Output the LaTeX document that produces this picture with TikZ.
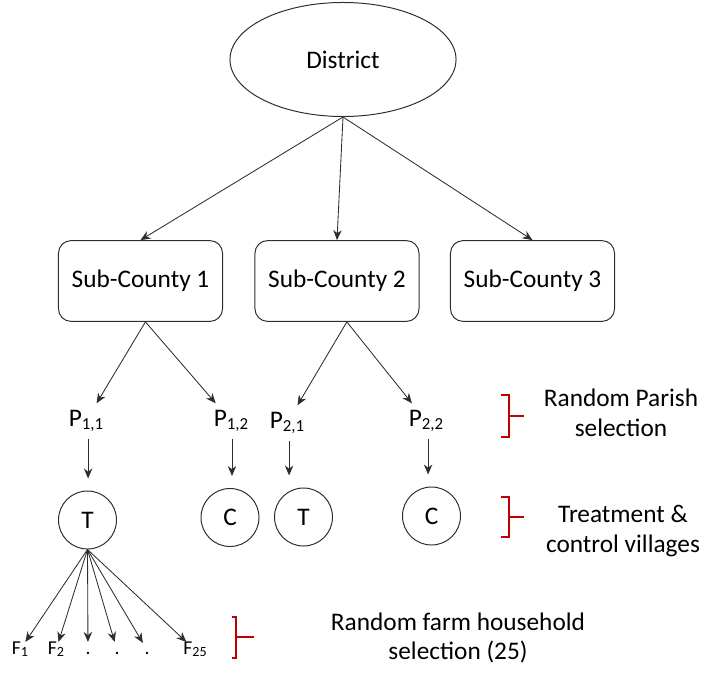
\documentclass[tikz,border=0pt]{standalone}
\usepackage{fontspec}
\setmainfont{Carlito}
\usetikzlibrary{arrows.meta,positioning,shapes.geometric}
\usepackage{xcolor}
\definecolor{brRed}{RGB}{192,0,0}
\definecolor{lnGray}{RGB}{45,45,45}
\newcommand{\lowidx}[2]{\raisebox{-0.2ex}{\fontsize{#1}{#1}\selectfont #2}}
\tikzset{
    level/.style={
        draw=lnGray,line width=0.7pt,align=center,
        font=\fontsize{18}{21}\selectfont
    },
    county/.style={
        level,rounded corners=9pt,minimum width=4.1cm,minimum height=2.02cm
    },
    village/.style={
        level,circle,minimum size=1.45cm,inner sep=0pt
    },
    parish/.style={
        font=\fontsize{18}{21}\selectfont,inner sep=5pt
    },
    farm/.style={
        font=\fontsize{14}{16}\selectfont,inner sep=1pt,
        text height=1.6ex,text depth=0.3ex
    },
    note/.style={
        align=center,font=\fontsize{18}{21}\selectfont
    },
    brace/.style={
        draw=brRed,line width=1.4pt
    },
    arrow/.style={
        -{Stealth[length=2.5mm,width=2.1mm]},line width=0.6pt,draw=lnGray
    }
}

\begin{document}
\begin{tikzpicture}[x=0.025cm,y=-0.025cm]
\useasboundingbox (0,0) rectangle (711,676);

% district and sub-counties
\node[level,ellipse,minimum width=5.65cm,minimum height=2.85cm,inner sep=0pt]
(district) at (343,59.5) {District};

\node[county] (sc1) at (140.5,281) {Sub-County 1};
\node[county] (sc2) at (337,281) {Sub-County 2};
\node[county] (sc3) at (532.5,281) {Sub-County 3};

\draw[arrow] (district.south) -- (sc1.north);
\draw[arrow] (district.south) -- (sc2.north);
\draw[arrow] (district.south) -- (sc3.north);

% parishes
\node[parish] (p11) at (86,421) {P\lowidx{12}{1,1}};
\node[parish] (p12) at (231,421) {P\lowidx{12}{1,2}};
\node[parish] (p21) at (287,423) {P\lowidx{12}{2,1}};
\node[parish] (p22) at (426,421) {P\lowidx{12}{2,2}};

\draw[arrow] ([xshift=3.5pt]sc1.south) -- (p11);
\draw[arrow] ([xshift=3.5pt]sc1.south) -- (p12);
\draw[arrow] ([xshift=7pt]sc2.south) -- (p21);
\draw[arrow] ([xshift=7pt]sc2.south) -- (p22);

% villages
\node[village] (t1) at (87.5,520) {T};
\node[village] (c1) at (230,517.5) {C};
\node[village] (t2) at (303.5,517) {T};
\node[village] (c2) at (431.5,516) {C};

\draw[arrow,shorten >=3mm] ([xshift=1.5pt]p11.south) -- ([xshift=1.5pt]p11.south |- t1.north);
\draw[arrow,shorten >=3mm] ([xshift=0.7pt]p12.south) -- ([xshift=0.7pt]p12.south |- c1.north);
\draw[arrow,shorten >=3mm] ([xshift=1.5pt]p21.south) -- ([xshift=1.5pt]p21.south |- t2.north);
\draw[arrow,shorten >=3mm] ([xshift=1.5pt]p22.south) -- ([xshift=1.5pt]p22.south |- c2.north);

% farm households
\node[farm] (f1) at (20,650) {F\lowidx{10}{1}};
\node[farm] (f2) at (56,650) {F\lowidx{10}{2}};
\node[farm] (fd1) at (88,650) {.};
\node[farm] (fd2) at (117,650) {.};
\node[farm] (fd3) at (147,650) {.};
\node[farm] (f25) at (195,650) {F\lowidx{10}{25}};

\draw[arrow] (t1.south) -- (f1);
\draw[arrow] (t1.south) -- (f2);
\draw[arrow] (t1.south) -- (fd1);
\draw[arrow] (t1.south) -- (fd2);
\draw[arrow] (t1.south) -- (fd3);
\draw[arrow] (t1.south) -- (f25);

% brackets and notes
\draw[brace] (500.7,395) -- (509,395) -- (509,436.7) -- (500.7,436.7)
    (509,416) -- (524,416);
\draw[brace] (500.7,496.7) -- (509,496.7) -- (509,536.7) -- (500.7,536.7)
    (509,516.7) -- (524,516.7);
\draw[brace] (231.7,616.7) -- (236,616.7) -- (236,658) -- (231.7,658)
    (236,637.3) -- (254,637.3);

\node[note] (n1) at (621,413) {Random Parish\\selection};
\node[note] (n2) at (623,531) {Treatment \&\\control villages};
\node[note] (n3) at (458,638) {Random farm household\\selection (25)};

\end{tikzpicture}
\end{document}
